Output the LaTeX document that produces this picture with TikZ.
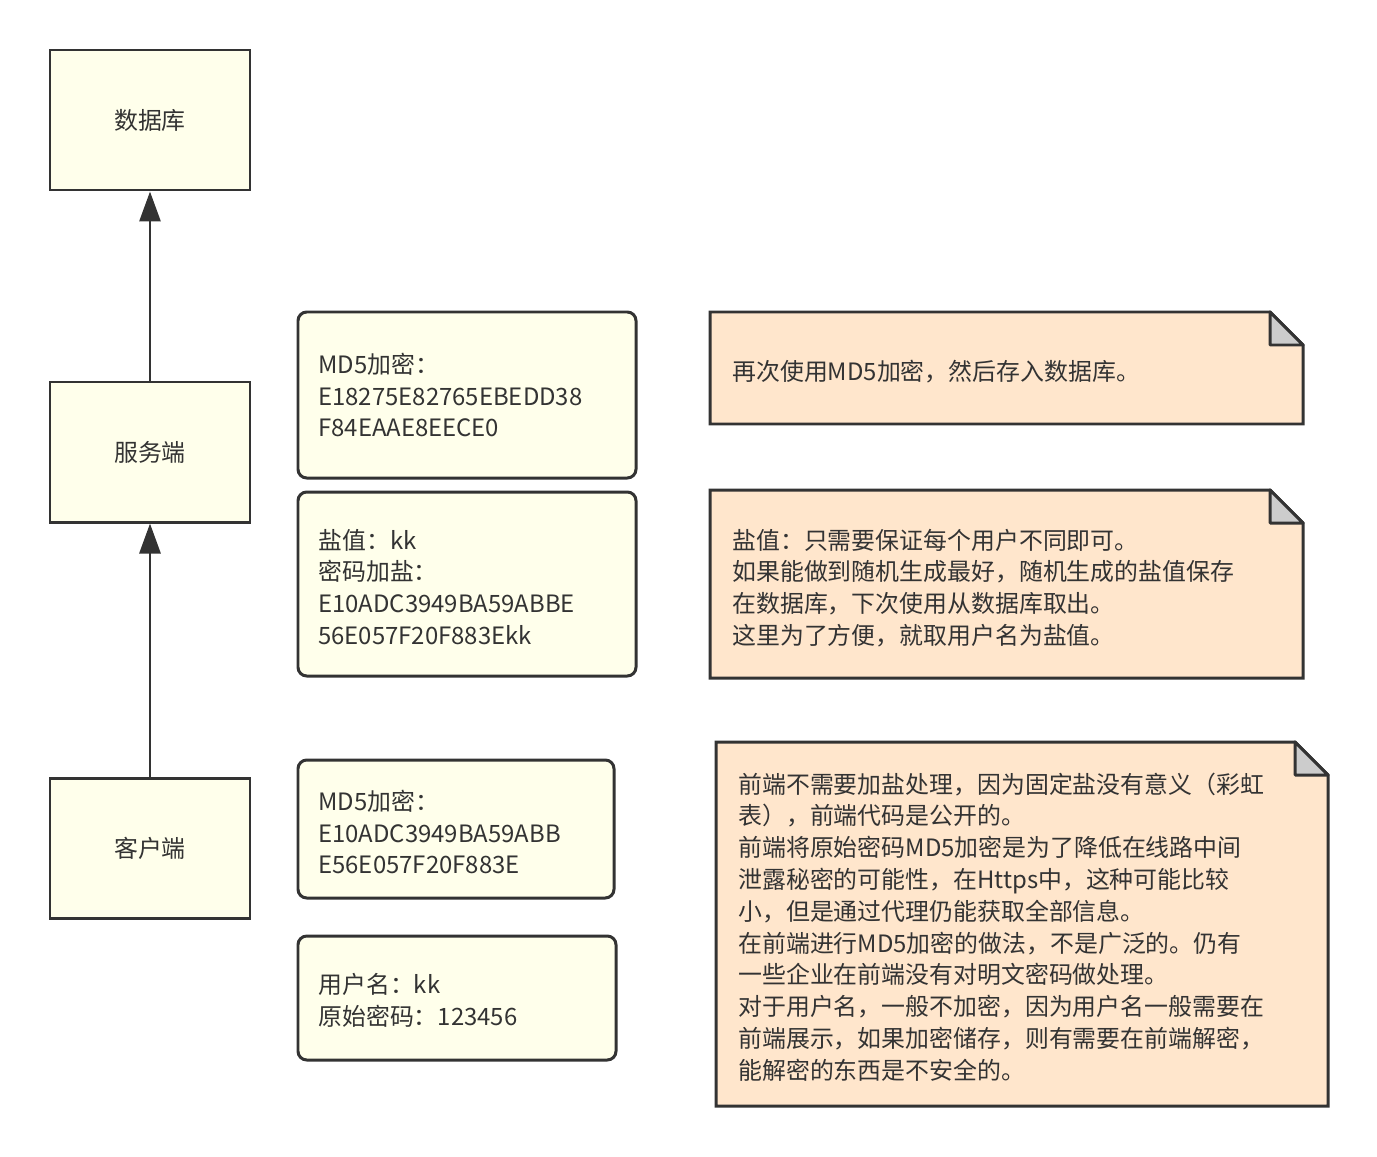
\documentclass[tikz,border=0pt]{standalone}
\usepackage{fontspec}
\setmainfont{Noto Sans CJK SC}
\usetikzlibrary{arrows.meta}
\usetikzlibrary{calc}
\usetikzlibrary{positioning}
\definecolor{edge}{HTML}{333333}
\definecolor{boxfill}{HTML}{FFFFEB}
\definecolor{notefill}{HTML}{FFE6CC}
\definecolor{foldfill}{HTML}{CCCCCC}
\tikzset{
  box/.style={draw=edge, line width=1.7pt, fill=boxfill, minimum width=4cm, minimum height=2.8cm,
    font=\fontsize{13.6}{18.1}\selectfont, text=edge},
  rbox/.style={draw=edge, line width=1.7pt, fill=boxfill, rounded corners=5pt},
  txt/.style={anchor=west, align=left, inner sep=0pt, text=edge, font=\fontsize{13.6}{18.1}\selectfont},
  flow/.style={draw=edge, line width=1.7pt, -{Triangle[length=0.6cm,width=0.42cm]}},
  notebody/.style={draw=edge, line width=1.7pt, fill=notefill},
  notefold/.style={draw=edge, line width=1.7pt, fill=foldfill, line join=round}
}
\newcommand{\notebox}[5]{% x1, y1, x2, y2 (cm), fold
  \draw[notebody] (#1,#2) -- (#3-#5,#2) -- (#3,#2-#5) -- (#3,#4) -- (#1,#4) -- cycle;
  \draw[notefold] (#3-#5,#2) -- (#3-#5,#2-#5) -- (#3,#2-#5) -- cycle;
}
\begin{document}
\begin{tikzpicture}
  \useasboundingbox (0,0) rectangle (27.54,-23.12);

  % left column
  \node[box] (db) at (3.0,-2.4) {数据库};
  \node[box] (server) at (3.0,-9.04) {服务端};
  \node[box] (client) at (3.0,-16.96) {客户端};
  \draw[flow] (client) -- (server);
  \draw[flow] (server) -- (db);

  % middle column
  \draw[rbox] (5.96,-6.24) rectangle (12.72,-9.56);
  \node[txt] (md5b) at (6.36,-7.9) {MD5加密：\\E18275E82765EBEDD38\\F84EAAE8EECE0};
  \draw[rbox] (5.96,-9.84) rectangle (12.72,-13.52);
  \node[txt] (salt) at (6.36,-11.74) {盐值：kk\\密码加盐：\\E10ADC3949BA59ABBE\\56E057F20F883Ekk};
  \draw[rbox] (5.96,-15.2) rectangle (12.28,-17.96);
  \node[txt] (md5a) at (6.36,-16.64) {MD5加密：\\E10ADC3949BA59ABB\\E56E057F20F883E};
  \draw[rbox] (5.96,-18.72) rectangle (12.32,-21.2);
  \node[txt] (user) at (6.36,-20.0) {用户名：kk\\原始密码：123456};

  % notes
  \notebox{14.2}{-6.24}{26.06}{-8.48}{0.66}
  \node[txt] (note1) at (14.64,-7.44) {再次使用MD5加密，然后存入数据库。};
  \notebox{14.2}{-9.8}{26.06}{-13.56}{0.66}
  \node[txt] (note2) at (14.64,-11.76) {盐值：只需要保证每个用户不同即可。\\如果能做到随机生成最好，随机生成的盐值保存\\在数据库，下次使用从数据库取出。\\这里为了方便，就取用户名为盐值。};
  \notebox{14.32}{-14.84}{26.56}{-22.12}{0.66}
  \node[txt] (note3) at (14.76,-18.54) {前端不需要加盐处理，因为固定盐没有意义（彩虹\\表），前端代码是公开的。\\前端将原始密码MD5加密是为了降低在线路中间\\泄露秘密的可能性，在Https中，这种可能比较\\小，但是通过代理仍能获取全部信息。\\在前端进行MD5加密的做法，不是广泛的。仍有\\一些企业在前端没有对明文密码做处理。\\对于用户名，一般不加密，因为用户名一般需要在\\前端展示，如果加密储存，则有需要在前端解密，\\能解密的东西是不安全的。};
\end{tikzpicture}
\end{document}
